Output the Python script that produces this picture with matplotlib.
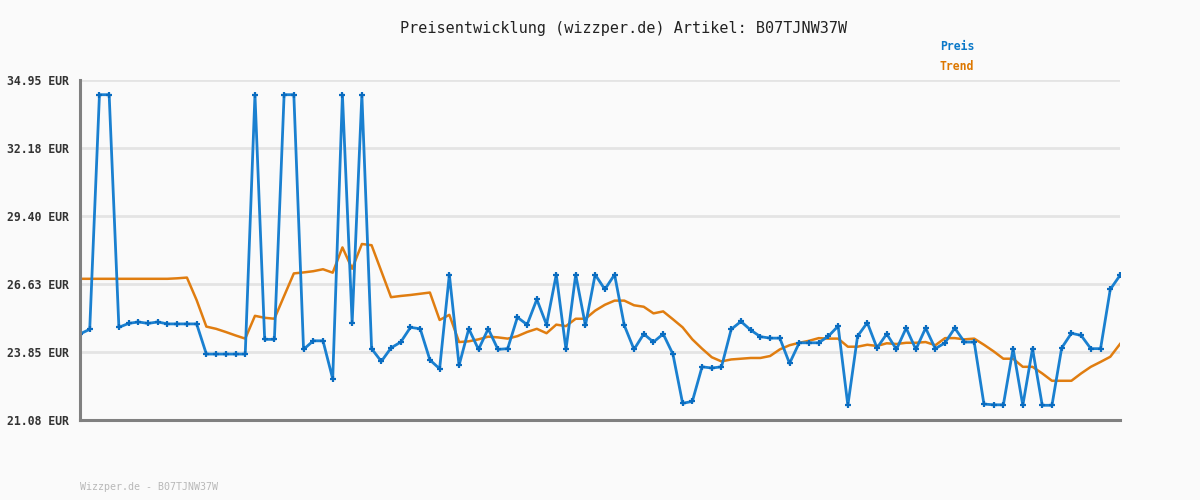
import matplotlib
matplotlib.use("Agg")
import matplotlib.pyplot as plt
import numpy as np

title = "Preisentwicklung (wizzper.de) Artikel: B07TJNW37W"
footer = "Wizzper.de - B07TJNW37W"
y_ticks = [21.08, 23.85, 26.63, 29.40, 32.18, 34.95]
y_tick_labels = ["21.08 EUR", "23.85 EUR", "26.63 EUR", "29.40 EUR", "32.18 EUR", "34.95 EUR"]

preis = [24.59, 24.78, 34.35, 34.35, 24.86, 25.02, 25.08, 25.02, 25.08, 25.00,
         25.00, 25.00, 25.00, 23.77, 23.77, 23.77, 23.77, 23.77, 34.35, 24.37,
         24.37, 34.35, 34.35, 23.96, 24.31, 24.31, 22.76, 34.35, 25.05, 34.35,
         23.99, 23.47, 24.02, 24.26, 24.86, 24.80, 23.53, 23.17, 27.01, 23.31,
         24.80, 23.96, 24.80, 23.96, 23.99, 25.27, 24.97, 26.00, 24.97, 27.01,
         23.96, 27.01, 24.94, 27.01, 26.41, 27.01, 24.94, 23.96, 24.59, 24.26,
         24.59, 23.77, 21.76, 21.84, 23.25, 23.20, 23.25, 24.78, 25.10, 24.75,
         24.48, 24.42, 24.42, 23.39, 24.23, 24.23, 24.23, 24.50, 24.91, 21.68,
         24.50, 25.05, 24.02, 24.59, 23.96, 24.83, 23.96, 24.83, 23.99, 24.23,
         24.83, 24.26, 24.26, 21.73, 21.70, 21.70, 23.99, 21.68, 23.99, 21.68,
         21.68, 24.02, 24.62, 24.53, 23.99, 23.99, 26.41, 26.98]

trend = [26.84, 26.84, 26.84, 26.84, 26.84, 26.84, 26.84, 26.84, 26.84, 26.84,
         26.86, 26.89, 25.97, 24.89, 24.80, 24.67, 24.53, 24.40, 25.33, 25.25,
         25.21, 26.14, 27.06, 27.10, 27.15, 27.23, 27.09, 28.12, 27.25, 28.26,
         28.21, 27.15, 26.09, 26.14, 26.18, 26.23, 26.28, 25.16, 25.37, 24.26,
         24.29, 24.37, 24.48, 24.45, 24.40, 24.50, 24.67, 24.80, 24.62, 24.97,
         24.91, 25.21, 25.21, 25.54, 25.78, 25.95, 25.95, 25.76, 25.70, 25.43,
         25.51, 25.19, 24.86, 24.37, 23.99, 23.64, 23.47, 23.55, 23.58, 23.61,
         23.61, 23.69, 23.96, 24.13, 24.23, 24.31, 24.42, 24.40, 24.40, 24.07,
         24.07, 24.15, 24.10, 24.21, 24.18, 24.23, 24.23, 24.26, 24.13, 24.42,
         24.42, 24.37, 24.40, 24.15, 23.88, 23.58, 23.58, 23.25, 23.25, 22.98,
         22.68, 22.68, 22.68, 22.98, 23.25, 23.45, 23.66, 24.18]

bg = "#fafafa"
blue = "#1a80d0"
blue_dark = "#0a6cc0"
orange = "#e07d10"

fig = plt.figure(figsize=(12, 5), dpi=100, facecolor=bg)
ax = fig.add_axes([80 / 1200, 1 - 420 / 500, 1040 / 1200, 340 / 500], facecolor=bg)

x = np.arange(len(preis))
ax.plot(x, trend, color=orange, lw=1.8, zorder=3, solid_joinstyle="round")
ax.plot(x, preis, color=blue, lw=2.0, zorder=4, marker="+", ms=4.5, mew=1.6,
        mec=blue_dark, solid_joinstyle="round")

ax.set_xlim(0, len(preis) - 1)
ax.set_ylim(y_ticks[0], y_ticks[-1])
ax.set_yticks(y_ticks)
ax.set_yticklabels(y_tick_labels, family="DejaVu Sans Mono", fontweight="bold",
                   fontsize=8.3, color="#333333")
ax.set_xticks([])
ax.tick_params(axis="y", length=0, pad=8)
ax.grid(axis="y", color="#e4e4e4", lw=2.0, zorder=1)
ax.set_axisbelow(True)

for s in ["top", "right"]:
    ax.spines[s].set_visible(False)
for s in ["left", "bottom"]:
    ax.spines[s].set_color("#808080")
    ax.spines[s].set_linewidth(2.2)
    ax.spines[s].set_zorder(5)

fig.text(624 / 1200, 1 - 28 / 500, title, ha="center", va="center",
         family="DejaVu Sans Mono", fontsize=10.9, color="#222222")
fig.text(940 / 1200, 1 - 47 / 500, "Preis", ha="left", va="center",
         family="DejaVu Sans Mono", fontweight="bold", fontsize=8.3, color="#0a78c8")
fig.text(940 / 1200, 1 - 67 / 500, "Trend", ha="left", va="center",
         family="DejaVu Sans Mono", fontweight="bold", fontsize=8.3, color="#dd7700")
fig.text(80 / 1200, 1 - 487 / 500, footer, ha="left", va="center",
         family="DejaVu Sans Mono", fontsize=7.2, color="#b8b8b8")

fig.savefig("out.png", dpi=100, facecolor=bg)
